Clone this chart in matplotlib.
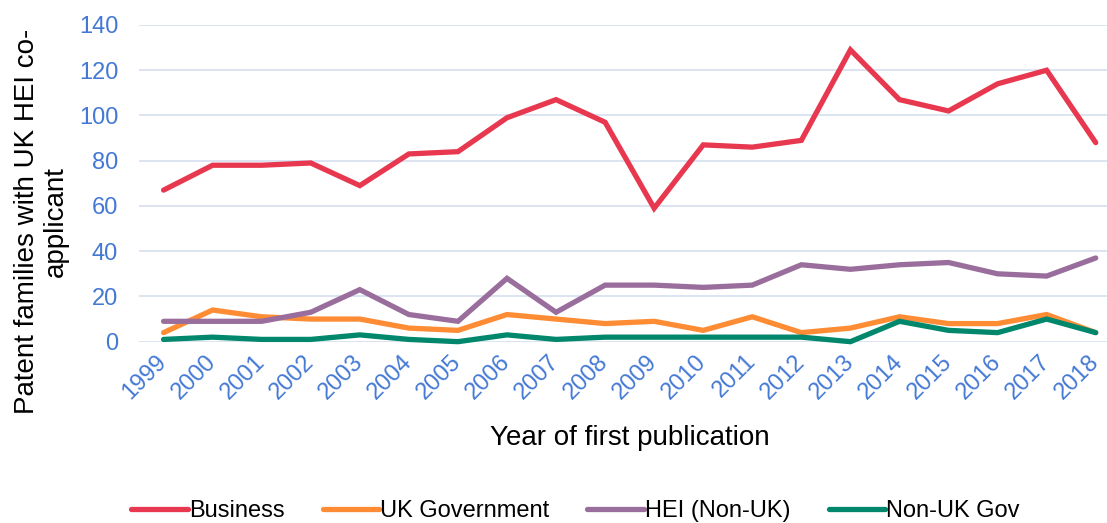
"""Patent families with UK HEI co-applicant, by year of first publication."""

import matplotlib
matplotlib.use("Agg")
import matplotlib.pyplot as plt

years = [str(y) for y in range(1999, 2019)]

business = [67, 78, 78, 79, 69, 83, 84, 99, 107, 97, 59, 87, 86, 89, 129, 107, 102, 114, 120, 88]
uk_government = [4, 14, 11, 10, 10, 6, 5, 12, 10, 8, 9, 5, 11, 4, 6, 11, 8, 8, 12, 4]
hei_non_uk = [9, 9, 9, 13, 23, 12, 9, 28, 13, 25, 25, 24, 25, 34, 32, 34, 35, 30, 29, 37]
non_uk_gov = [1, 2, 1, 1, 3, 1, 0, 3, 1, 2, 2, 2, 2, 2, 0, 9, 5, 4, 10, 4]

series = [
    ("Business", business, "#E8384F"),
    ("UK Government", uk_government, "#FD8C34"),
    ("HEI (Non-UK)", hei_non_uk, "#9A6E9C"),
    ("Non-UK Gov", non_uk_gov, "#00876C"),
]

plt.rcParams["font.family"] = ["Liberation Sans", "DejaVu Sans"]

fig = plt.figure(figsize=(11.07, 5.23), dpi=100)
ax = fig.add_axes([0.1256, 0.3467, 0.8744, 0.6055])

x = list(range(len(years)))
for name, vals, color in series:
    ax.plot(x, vals, color=color, lw=3.8, label=name, solid_capstyle="round",
            solid_joinstyle="miter", clip_on=False, zorder=3)

ax.set_ylim(0, 140)
ax.set_yticks(range(0, 141, 20))
ax.set_xlim(-0.5, 19.23)
ax.set_xticks(x)
ax.set_xticklabels(years, rotation=45, ha="right", va="center", rotation_mode="anchor")

ax.grid(axis="y", color="#D5DFF0", lw=1.2, zorder=0)
ax.set_axisbelow(True)
for s in ax.spines.values():
    s.set_visible(False)

ax.tick_params(axis="y", length=0, pad=15, labelsize=17, labelcolor="#4378D4")
ax.tick_params(axis="x", length=0, pad=12, labelsize=17, labelcolor="#4378D4")

ax.set_ylabel("Patent families with UK HEI co-\napplicant", fontsize=20, linespacing=1.15)
ax.yaxis.set_label_coords(-0.072, 0.38)
ax.set_xlabel("Year of first publication", fontsize=20, va="top")
ax.xaxis.set_label_coords(0.507, -0.262)

fig.legend(loc="center", bbox_to_anchor=(0.52, 0.022), ncol=4, frameon=False,
           fontsize=17, handlelength=2.4, handletextpad=0.05, columnspacing=1.6)

fig.savefig("out.png", dpi=100)
